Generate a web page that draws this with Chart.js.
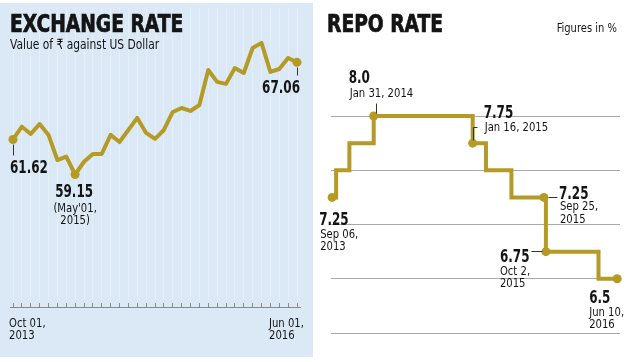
<!DOCTYPE html>
<html>
<head>
<meta charset="utf-8">
<script src="https://cdn.jsdelivr.net/npm/chart.js@4.4.1/dist/chart.umd.min.js"></script>
<style>
  html, body { margin: 0; padding: 0; background: #fff; }
  #page { position: relative; width: 640px; height: 362px; overflow: hidden;
          font-family: 'Liberation Sans Narrow', 'DejaVu Sans Condensed', sans-serif; color: #141414; }
  #leftPanel { position: absolute; left: 0; top: 3px; width: 313px; height: 354px; background: #dae9f5; }
  #rightPanel { position: absolute; left: 320px; top: 0; width: 320px; height: 362px; }
  canvas { position: absolute; left: 0; top: 0; }
  .title { position: absolute; top: 12px; font-weight: bold; font-size: 24px; line-height: 24px;
           white-space: nowrap; -webkit-text-stroke: 0.7px #141414; z-index: 2;
           transform: scaleX(0.865); transform-origin: left top; }
  .sub { position: absolute; font-size: 14px; line-height: 14px; white-space: nowrap; z-index: 2;
         transform: scaleX(0.85); transform-origin: left top; }
</style>
</head>
<body>
<div id="page">
  <div id="leftPanel"><canvas id="rateChart" width="313" height="354"></canvas></div>
  <div id="rightPanel"><canvas id="repoChart" width="320" height="362"></canvas></div>
  <div class="title" style="left:10px">EXCHANGE RATE</div>
  <div class="sub" style="left:10px; top:37px">Value of ₹ against US Dollar</div>
  <div class="title" style="left:327px">REPO RATE</div>
  <div class="sub" style="right:23px; top:21px; font-size:13px; transform-origin: right top">Figures in %</div>
</div>
<script>
// Exchange rate, monthly (1st of month)
const months = ['Oct 2013', 'Nov 2013', 'Dec 2013', 'Jan 2014', 'Feb 2014', 'Mar 2014', 'Apr 2014', 'May 2014',
  'Jun 2014', 'Jul 2014', 'Aug 2014', 'Sep 2014', 'Oct 2014', 'Nov 2014', 'Dec 2014', 'Jan 2015', 'Feb 2015',
  'Mar 2015', 'Apr 2015', 'May 2015', 'Jun 2015', 'Jul 2015', 'Aug 2015', 'Sep 2015', 'Oct 2015', 'Nov 2015',
  'Dec 2015', 'Jan 2016', 'Feb 2016', 'Mar 2016', 'Apr 2016', 'May 2016', 'Jun 2016'];
const rates = [61.62, 62.52, 62.01, 62.71, 61.94, 60.17, 60.41, 59.15, 60.05, 60.60, 60.60, 61.94, 61.44,
  62.29, 63.14, 62.08, 61.66, 62.29, 63.56, 63.84, 63.63, 64.05, 66.52, 65.68, 65.54, 66.66, 66.31,
  68.07, 68.43, 66.38, 66.59, 67.37, 67.06];
const endLabels = [['Oct 01,', '2013'], ['Jun 01,', '2016']];

// Repo rate change points
const repoDates = ['2013-09-06', '2013-09-20', '2013-11-06', '2014-01-31', '2015-01-16', '2015-03-04',
  '2015-06-02', '2015-09-25', '2015-10-02', '2016-04-05', '2016-06-10'];
const repoRates = [7.25, 7.5, 7.75, 8.0, 7.75, 7.5, 7.25, 7.25, 6.75, 6.5, 6.5];
const repoTicks = [6, 8, 0.5]; // min, max, step

const GOLD = '#b59b25';
const FONT = "'Liberation Sans Narrow', 'DejaVu Sans Condensed', sans-serif";

// condensed text: squeeze the glyphs like the narrow newspaper face
function squeezeText(ctx, text, x, y, bold, size) {
  ctx.font = (bold ? 'bold ' : '') + size + 'px ' + FONT;
  const w = ctx.measureText(text).width;
  ctx.fillText(text, x, y, w * (bold ? 0.74 : 0.86));
}

// draws value/date notes next to chosen points
const notePlugin = {
  id: 'notes',
  afterDatasetsDraw(chart, args, opts) {
    const ctx = chart.ctx;
    const pts = chart.getDatasetMeta(0).data;
    ctx.save();
    (opts.items || []).forEach(item => {
      const p = pts[item.i];
      if (item.leader) {
        ctx.beginPath();
        ctx.strokeStyle = '#333';
        ctx.lineWidth = 1;
        item.leader.forEach((d, k) => {
          const x = Math.round(p.x + d[0]) + 0.5, y = Math.round(p.y + d[1]) + 0.5;
          k ? ctx.lineTo(x, y) : ctx.moveTo(x, y);
        });
        ctx.stroke();
      }
      item.texts.forEach(t => {
        ctx.fillStyle = '#141414';
        ctx.textAlign = t[4] || 'left';
        squeezeText(ctx, t[0], p.x + t[2], p.y + t[3], t[1], t[1] ? 18 : 13);
      });
    });
    ctx.restore();
  }
};

// baseline under the month ticks, plus the first/last date labels
const axisPlugin = {
  id: 'axisExtras',
  afterDraw(chart) {
    const ctx = chart.ctx, a = chart.chartArea, xs = chart.scales.x;
    const y = Math.round(a.bottom + chart.options.scales.x.grid.tickLength) - 0.5;
    ctx.save();
    ctx.strokeStyle = '#8a8a8a';
    ctx.lineWidth = 1;
    ctx.beginPath();
    ctx.moveTo(a.left - 3, y);
    ctx.lineTo(a.right + 4, y);
    ctx.stroke();
    ctx.fillStyle = '#141414';
    ctx.textAlign = 'left';
    const spots = [[xs.getPixelForTick(0) - 4, endLabels[0]], [xs.getPixelForTick(months.length - 1) - 28, endLabels[1]]];
    spots.forEach(s => {
      s[1].forEach((line, k) => squeezeText(ctx, line, s[0], a.bottom + 24 + k * 12, false, 13));
    });
    ctx.restore();
  }
};

const rateDots = rates.map((v, i) => (i === 0 || i === 7 || i === rates.length - 1) ? 4.5 : 0);

new Chart(document.getElementById('rateChart'), {
  type: 'line',
  data: {
    labels: months,
    datasets: [{
      data: rates,
      borderColor: GOLD,
      backgroundColor: GOLD,
      borderWidth: 4,
      borderJoinStyle: 'round',
      borderCapStyle: 'round',
      pointRadius: rateDots,
      pointBorderWidth: 0,
      tension: 0,
      clip: false
    }]
  },
  options: {
    responsive: false,
    animation: false,
    layout: { padding: { left: 13, right: 16, top: 5, bottom: 49 } },
    plugins: {
      legend: { display: false },
      tooltip: { enabled: false },
      notes: {
        items: [
          { i: 0, leader: [[0, 5], [0, 16]], texts: [['61.62', true, -3, 34]] },
          { i: 7, texts: [['59.15', true, -1, 22, 'center'], ["(May'01,", false, 0, 37, 'center'], ['2015)', false, 0, 49, 'center']] },
          { i: rates.length - 1, leader: [[0, 5], [0, 13]], texts: [['67.06', true, 3, 31, 'right']] }
        ]
      }
    },
    scales: {
      x: {
        offset: false,
        grid: { color: 'rgba(255,255,255,0.3)', tickColor: '#8a8a8a', tickLength: 5 },
        border: { display: false },
        ticks: { display: false, autoSkip: false }
      },
      y: { display: false, min: 50.09, max: 70.89 }
    }
  },
  plugins: [notePlugin, axisPlugin]
});

const t0 = Date.parse(repoDates[0]);
const dayOf = d => (Date.parse(d) - t0) / 86400000;
const repoDots = [4.5, 0, 0, 4.5, 4.5, 0, 0, 4.5, 4.5, 0, 4.5];

new Chart(document.getElementById('repoChart'), {
  type: 'line',
  data: {
    datasets: [{
      data: repoDates.map((d, i) => ({ x: dayOf(d), y: repoRates[i] })),
      stepped: true,
      borderColor: GOLD,
      backgroundColor: GOLD,
      borderWidth: 4,
      pointRadius: repoDots,
      pointBorderWidth: 0,
      clip: false
    }]
  },
  options: {
    responsive: false,
    animation: false,
    layout: { padding: { left: 11, right: 20, top: 116, bottom: 29 } },
    plugins: {
      legend: { display: false },
      tooltip: { enabled: false },
      notes: {
        items: [
          { i: 0, texts: [['7.25', true, -13, 28], ['Sep 06,', false, -12, 41], ['2013', false, -12, 53]] },
          { i: 3, leader: [[2, -3], [2, -13]], texts: [['8.0', true, -25, -33], ['Jan 31, 2014', false, -24, -19]] },
          { i: 4, leader: [[0, -3], [0, -16], [4, -16]], texts: [['7.75', true, 11, -25], ['Jan 16, 2015', false, 12, -12]] },
          { i: 7, leader: [[4, 0], [13, 0]], texts: [['7.25', true, 15, 2], ['Sep 25,', false, 16, 13], ['2015', false, 16, 26]] },
          { i: 8, leader: [[-4, -1], [-15, -1]], texts: [['6.75', true, -46, 10], ['Oct 2,', false, -46, 23], ['2015', false, -46, 35]] },
          { i: 10, texts: [['6.5', true, -28, 24], ['Jun 10,', false, -28, 37], ['2016', false, -28, 49]] }
        ]
      }
    },
    scales: {
      x: { type: 'linear', display: false, min: dayOf('2013-09-02'), max: dayOf('2016-06-20') },
      y: {
        min: repoTicks[0], max: repoTicks[1],
        ticks: { display: false, stepSize: repoTicks[2] },
        grid: { color: '#a8a8a8', drawTicks: false },
        border: { display: false }
      }
    }
  },
  plugins: [notePlugin]
});
</script>
</body>
</html>
